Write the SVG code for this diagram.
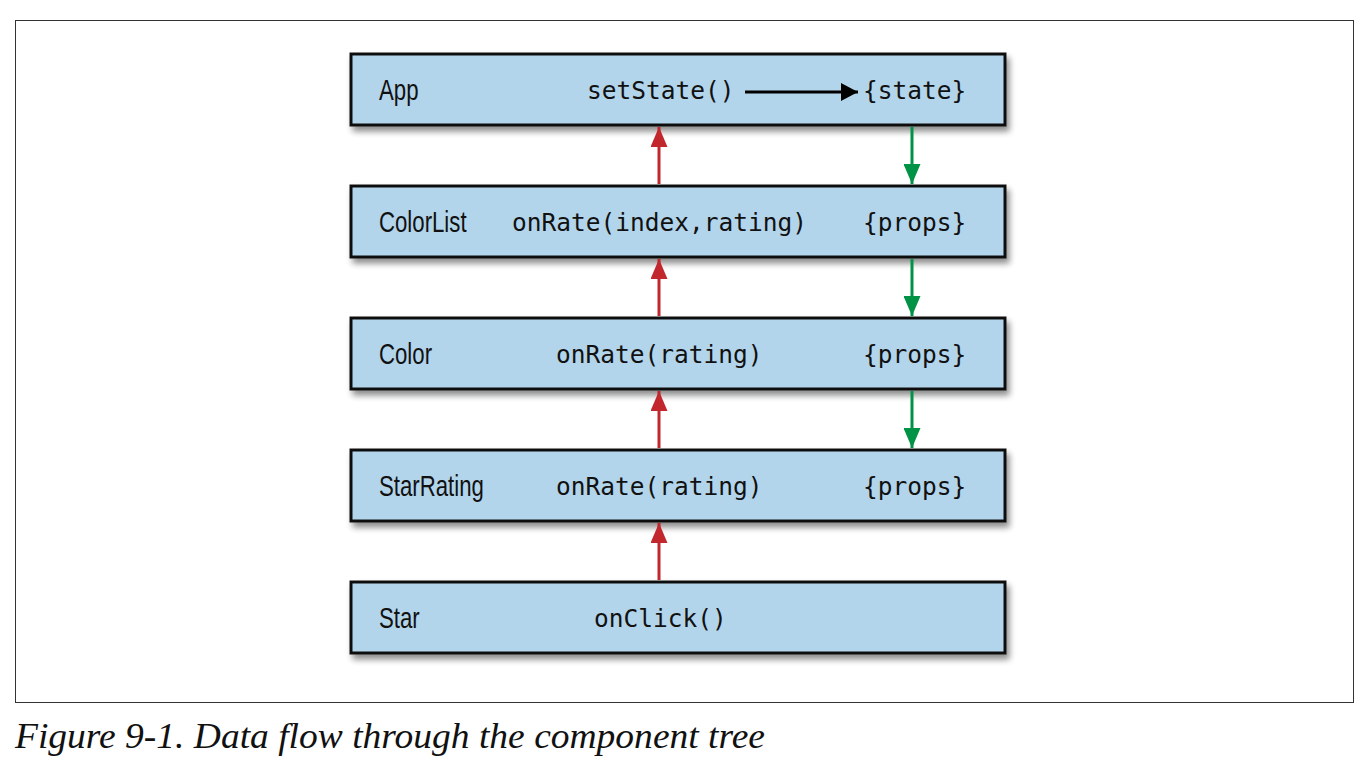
<svg xmlns="http://www.w3.org/2000/svg" width="1367" height="770" viewBox="0 0 1367 770">
<style>
.box{fill:#b3d5eb;stroke:#111;stroke-width:3}
.name{font-family:"Liberation Sans",Arial,sans-serif;font-size:30px;fill:#111}
.code{font-family:"DejaVu Sans Mono","Liberation Mono",monospace;font-size:24.5px;fill:#111}
.up{stroke:#c1272d;stroke-width:3;fill:none}
.down{stroke:#009245;stroke-width:3;fill:none}
.cap{font-family:"Liberation Serif","Times New Roman",serif;font-style:italic;font-size:36px;fill:#111}
</style>
<defs>
<filter id="sh" x="-5%" y="-20%" width="115%" height="150%">
<feGaussianBlur in="SourceAlpha" stdDeviation="3"/>
<feOffset dx="3" dy="5" result="b"/>
<feComponentTransfer><feFuncA type="linear" slope="0.45"/></feComponentTransfer>
<feMerge><feMergeNode/><feMergeNode in="SourceGraphic"/></feMerge>
</filter>
<marker id="ar" viewBox="0 0 10 10" refX="10" refY="5" markerWidth="20" markerHeight="17" markerUnits="userSpaceOnUse" orient="auto" preserveAspectRatio="none"><path d="M0,0 L10,5 L0,10 z" fill="#c1272d"/></marker>
<marker id="ag" viewBox="0 0 10 10" refX="10" refY="5" markerWidth="20" markerHeight="17" markerUnits="userSpaceOnUse" orient="auto" preserveAspectRatio="none"><path d="M0,0 L10,5 L0,10 z" fill="#009245"/></marker>
<marker id="ak" viewBox="0 0 10 10" refX="10" refY="5" markerWidth="17" markerHeight="18" markerUnits="userSpaceOnUse" orient="auto" preserveAspectRatio="none"><path d="M0,0 L10,5 L0,10 z" fill="#000"/></marker>
</defs>
<rect x="0" y="0" width="1367" height="770" fill="#fff"/>
<rect x="15.5" y="20.5" width="1338" height="682" fill="none" stroke="#333" stroke-width="1"/>
<g id="App" filter="url(#sh)"><rect class="box" x="351" y="54" width="654" height="71"/></g>
<g id="App-t"><text class="name" x="379" y="100" transform="translate(379 0) scale(0.74 1) translate(-379 0)">App</text><text class="code" x="587" y="99">setState()</text><text class="code" x="863" y="99">{state}</text></g>
<g id="ColorList" filter="url(#sh)"><rect class="box" x="351" y="186" width="654" height="71"/></g>
<g id="ColorList-t"><text class="name" x="379" y="232" transform="translate(379 0) scale(0.74 1) translate(-379 0)">ColorList</text><text class="code" x="512" y="231">onRate(index,rating)</text><text class="code" x="863" y="231">{props}</text></g>
<g id="Color" filter="url(#sh)"><rect class="box" x="351" y="318" width="654" height="71"/></g>
<g id="Color-t"><text class="name" x="379" y="364" transform="translate(379 0) scale(0.74 1) translate(-379 0)">Color</text><text class="code" x="556" y="363">onRate(rating)</text><text class="code" x="863" y="363">{props}</text></g>
<g id="StarRating" filter="url(#sh)"><rect class="box" x="351" y="450" width="654" height="71"/></g>
<g id="StarRating-t"><text class="name" x="379" y="496" transform="translate(379 0) scale(0.74 1) translate(-379 0)">StarRating</text><text class="code" x="556" y="495">onRate(rating)</text><text class="code" x="863" y="495">{props}</text></g>
<g id="Star" filter="url(#sh)"><rect class="box" x="351" y="582" width="654" height="71"/></g>
<g id="Star-t"><text class="name" x="379" y="628" transform="translate(379 0) scale(0.74 1) translate(-379 0)">Star</text><text class="code" x="594" y="627">onClick()</text></g>
<g id="connectors">
<path d="M745,92 H858" stroke="#000" stroke-width="3" marker-end="url(#ak)"/>
<path class="up" d="M659,184 V127" marker-end="url(#ar)"/>
<path class="up" d="M659,316 V259" marker-end="url(#ar)"/>
<path class="up" d="M659,448 V391" marker-end="url(#ar)"/>
<path class="up" d="M659,580 V523" marker-end="url(#ar)"/>
<path class="down" d="M912,127 V184" marker-end="url(#ag)"/>
<path class="down" d="M912,259 V316" marker-end="url(#ag)"/>
<path class="down" d="M912,391 V448" marker-end="url(#ag)"/>
</g>
<text class="cap" x="15" y="748" textLength="750" lengthAdjust="spacingAndGlyphs">Figure 9-1. Data flow through the component tree</text>
</svg>
